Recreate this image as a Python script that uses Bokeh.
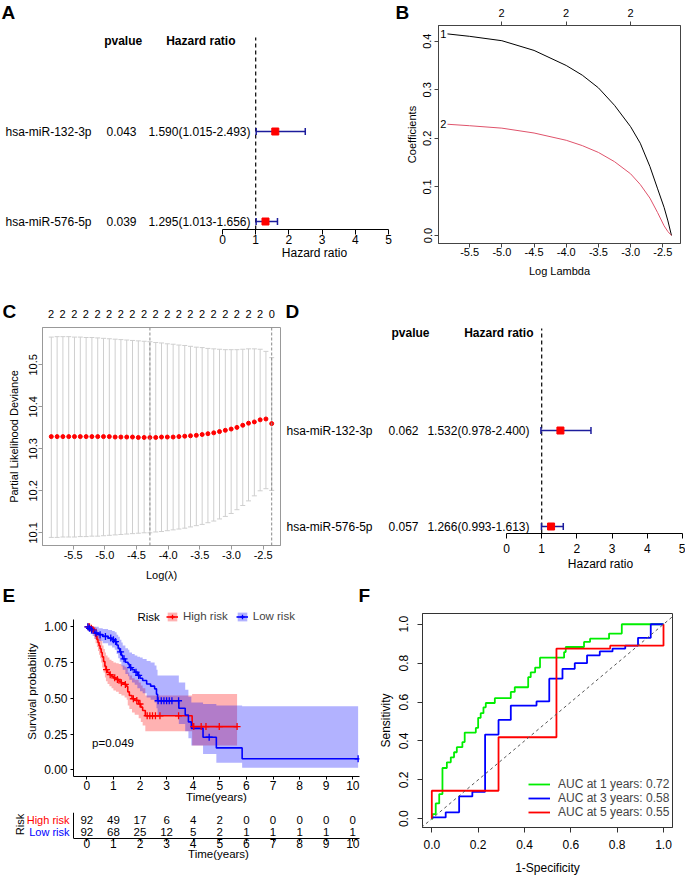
import numpy as np
from bokeh.plotting import figure
from bokeh.layouts import row, column
from bokeh.models import (Range1d, LinearAxis, FixedTicker, Span, Legend,
                          LegendItem, Slope, PrintfTickFormatter, ColumnDataSource)
from bokeh.core.properties import value
from bokeh.embed import file_html
from bokeh.resources import INLINE

FONT = "Liberation Sans"

# ---------------- data: forest plots (A: univariate, D: multivariate) ----------------
genes = ["hsa-miR-132-3p", "hsa-miR-576-5p"]
gene_rows = [2, 1]
uni_pvalue = ["0.043", "0.039"]
uni_hr = [1.590, 1.295]
uni_low = [1.015, 1.013]
uni_high = [2.493, 1.656]
multi_pvalue = ["0.062", "0.057"]
multi_hr = [1.532, 1.266]
multi_low = [0.978, 0.993]
multi_high = [2.400, 1.613]
hr_ticks = [0, 1, 2, 3, 4, 5]
hr_reference = 1

# ---------------- data: LASSO coefficient paths (B) ----------------
path_loglambda = [-5.845, -5.5, -5.0, -4.5, -4.0, -3.75, -3.5, -3.25, -3.0, -2.85, -2.7, -2.58, -2.48, -2.42, -2.365]
path_coef_1 = [0.415, 0.410, 0.401, 0.381, 0.350, 0.330, 0.304, 0.268, 0.224, 0.190, 0.142, 0.096, 0.058, 0.030, 0.0]
path_coef_2 = [0.229, 0.226, 0.221, 0.211, 0.196, 0.185, 0.171, 0.152, 0.127, 0.105, 0.077, 0.047, 0.020, 0.008, 0.0]
path_var_labels = ["1", "2"]
path_xticks = [-5.5, -5.0, -4.5, -4.0, -3.5, -3.0, -2.5]
path_yticks = [0.0, 0.1, 0.2, 0.3, 0.4]
path_top_ticks = [-5.0, -4.0, -3.0]
path_top_labels = ["2", "2", "2"]

# ---------------- data: cross-validation (C) ----------------
cv_loglambda = [-5.845, -5.753, -5.662, -5.570, -5.479, -5.387, -5.295, -5.204, -5.112, -5.021,
                -4.929, -4.837, -4.746, -4.654, -4.563, -4.471, -4.379, -4.288, -4.196, -4.105,
                -4.013, -3.921, -3.830, -3.738, -3.647, -3.555, -3.463, -3.372, -3.280, -3.189,
                -3.097, -3.005, -2.914, -2.822, -2.731, -2.639, -2.547, -2.456, -2.365]
cv_mean = [10.329, 10.329, 10.329, 10.329, 10.329, 10.329, 10.329, 10.329, 10.329, 10.329,
           10.329, 10.328, 10.328, 10.328, 10.328, 10.327, 10.327, 10.327, 10.327, 10.328,
           10.328, 10.328, 10.329, 10.330, 10.331, 10.332, 10.334, 10.336, 10.338, 10.341,
           10.344, 10.347, 10.351, 10.356, 10.361, 10.364, 10.369, 10.371, 10.360]
cv_upper = [10.566, 10.567, 10.567, 10.567, 10.566, 10.566, 10.565, 10.565, 10.564, 10.563,
            10.562, 10.561, 10.560, 10.559, 10.558, 10.557, 10.556, 10.555, 10.553, 10.552,
            10.550, 10.549, 10.547, 10.546, 10.544, 10.542, 10.541, 10.539, 10.538, 10.537,
            10.536, 10.536, 10.536, 10.537, 10.538, 10.538, 10.537, 10.532, 10.517]
cv_lower = [10.089, 10.089, 10.090, 10.090, 10.090, 10.091, 10.091, 10.092, 10.092, 10.093,
            10.094, 10.095, 10.096, 10.097, 10.098, 10.099, 10.100, 10.100, 10.102, 10.103,
            10.105, 10.107, 10.109, 10.111, 10.114, 10.117, 10.120, 10.124, 10.128, 10.133,
            10.139, 10.146, 10.155, 10.165, 10.176, 10.188, 10.200, 10.205, 10.201]
cv_nonzero = ["2", "2", "2", "2", "2", "2", "2", "2", "2", "2",
              "2", "2", "2", "2", "2", "2", "2", "2", "2", "0"]
cv_min_index = 17
cv_1se_index = 38
cv_yticks = [10.1, 10.2, 10.3, 10.4, 10.5]

# ---------------- data: Kaplan-Meier (E) ----------------
hr_time = [0, 0.12, 0.2, 0.28, 0.33, 0.38, 0.42, 0.46, 0.5, 0.54, 0.58, 0.63, 0.68, 0.72, 0.78, 0.85,
           0.93, 1.0, 1.1, 1.2, 1.3, 1.42, 1.5, 1.54, 1.6, 1.7, 1.8, 1.95, 2.03, 2.1, 2.2, 3.96]
hr_surv = [1.0, 0.989, 0.978, 0.956, 0.934, 0.912, 0.89, 0.868, 0.846, 0.82, 0.79, 0.757, 0.725, 0.70,
           0.68, 0.665, 0.655, 0.643, 0.632, 0.62, 0.608, 0.597, 0.583, 0.545, 0.52, 0.497, 0.485,
           0.46, 0.438, 0.415, 0.378, 0.302]
hr_upper = [1.0, 1.0, 1.0, 1.0, 0.99, 0.975, 0.96, 0.945, 0.925, 0.90, 0.87, 0.845, 0.82, 0.80, 0.785,
            0.77, 0.76, 0.75, 0.745, 0.74, 0.73, 0.72, 0.71, 0.68, 0.66, 0.64, 0.63, 0.61, 0.59, 0.57,
            0.52, 0.53]
hr_lower = [1.0, 0.968, 0.95, 0.915, 0.885, 0.858, 0.83, 0.805, 0.78, 0.75, 0.715, 0.68, 0.645, 0.62,
            0.60, 0.585, 0.57, 0.555, 0.545, 0.53, 0.52, 0.505, 0.49, 0.45, 0.425, 0.40, 0.385, 0.36,
            0.335, 0.31, 0.27, 0.17]
hr_end = 5.65
hr_cens = [0.05, 0.1, 0.17, 0.24, 0.74, 0.88, 1.05, 1.15, 1.3, 1.45, 1.75, 1.88, 2.0, 2.27, 2.37,
           2.47, 2.58, 2.75, 3.45, 4.02, 4.3, 4.48, 4.98, 5.65]

lr_time = [0, 0.08, 0.15, 0.22, 0.3, 0.45, 0.6, 0.8, 0.95, 1.05, 1.12, 1.18, 1.24, 1.3, 1.35, 1.45,
           1.55, 1.6, 1.7, 1.8, 1.9, 2.0, 2.1, 2.25, 2.4, 2.55, 2.62, 2.66, 3.46, 3.7, 3.82, 3.93,
           4.37, 4.87, 5.84]
lr_surv = [1.0, 0.989, 0.978, 0.967, 0.956, 0.945, 0.933, 0.921, 0.909, 0.897, 0.873, 0.849, 0.825,
           0.80, 0.776, 0.752, 0.74, 0.715, 0.70, 0.683, 0.66, 0.64, 0.625, 0.60, 0.585, 0.566, 0.528,
           0.483, 0.43, 0.383, 0.335, 0.29, 0.228, 0.153, 0.077]
lr_upper = [1.0, 1.0, 1.0, 1.0, 1.0, 0.99, 0.985, 0.978, 0.97, 0.962, 0.945, 0.93, 0.91, 0.89, 0.87,
            0.85, 0.84, 0.82, 0.81, 0.80, 0.79, 0.785, 0.775, 0.76, 0.75, 0.73, 0.70, 0.66, 0.61,
            0.56, 0.51, 0.47, 0.46, 0.45, 0.445]
lr_lower = [1.0, 0.968, 0.95, 0.935, 0.915, 0.9, 0.885, 0.87, 0.855, 0.84, 0.81, 0.78, 0.755, 0.725,
            0.70, 0.67, 0.655, 0.63, 0.61, 0.595, 0.57, 0.55, 0.535, 0.505, 0.49, 0.47, 0.43, 0.38,
            0.32, 0.27, 0.22, 0.17, 0.11, 0.05, 0.014]
lr_end = 10.2
lr_cens = [0.04, 0.1, 0.18, 0.35, 0.5, 0.7, 0.9, 1.0, 1.08, 1.27, 1.4, 1.65, 1.85, 1.95, 2.68, 2.8,
           2.9, 3.0, 3.1, 3.2, 3.45, 4.6, 10.2]
km_pvalue = "p=0.049"
km_pvalue_pos = (0.2, 0.19)
km_legend_title = "Risk"
surv_yticks = [0.0, 0.25, 0.5, 0.75, 1.0]
surv_axis_bounds = (-0.05, 1.05)
risk_times = [0, 1, 2, 3, 4, 5, 6, 7, 8, 9, 10]
hr_risk = [92, 49, 17, 6, 4, 2, 0, 0, 0, 0, 0]
lr_risk = [92, 68, 25, 12, 5, 2, 1, 1, 1, 1, 1]
risk_groups = ["High risk", "Low risk"]
risk_rows = [2, 1]

# ---------------- data: time-dependent ROC (F) ----------------
roc1_fpr = [0, 0.003, 0.003, 0.017, 0.017, 0.032, 0.032, 0.046, 0.046, 0.065, 0.065, 0.082, 0.082,
            0.096, 0.096, 0.108, 0.108, 0.132, 0.132, 0.142, 0.142, 0.19, 0.19, 0.2, 0.2, 0.211,
            0.211, 0.223, 0.223, 0.233, 0.233, 0.272, 0.272, 0.341, 0.341, 0.358, 0.358, 0.416,
            0.416, 0.427, 0.427, 0.446, 0.446, 0.467, 0.467, 0.571, 0.571, 0.578, 0.578, 0.657,
            0.657, 0.683, 0.683, 0.765, 0.765, 0.82, 0.82, 1.0]
roc1_tpr = [0, 0, 0.024, 0.024, 0.079, 0.079, 0.127, 0.127, 0.261, 0.261, 0.29, 0.29, 0.316,
            0.316, 0.342, 0.342, 0.368, 0.368, 0.394, 0.394, 0.443, 0.443, 0.467, 0.467, 0.519,
            0.519, 0.543, 0.543, 0.573, 0.573, 0.595, 0.595, 0.62, 0.62, 0.652, 0.652, 0.676,
            0.676, 0.728, 0.728, 0.753, 0.753, 0.777, 0.777, 0.828, 0.828, 0.857, 0.857, 0.883,
            0.883, 0.909, 0.909, 0.926, 0.926, 0.952, 0.952, 1.0, 1.0]
roc3_fpr = [0, 0.003, 0.06, 0.06, 0.118, 0.118, 0.175, 0.175, 0.23, 0.23, 0.288, 0.288, 0.341,
            0.341, 0.452, 0.452, 0.507, 0.507, 0.564, 0.564, 0.617, 0.617, 0.67, 0.67, 0.725,
            0.725, 0.78, 0.78, 0.835, 0.835, 0.89, 0.89, 0.945, 0.945, 1.0]
roc3_tpr = [0, 0.007, 0.007, 0.033, 0.033, 0.115, 0.115, 0.139, 0.139, 0.433, 0.433, 0.508, 0.508,
            0.582, 0.582, 0.603, 0.603, 0.72, 0.72, 0.771, 0.771, 0.80, 0.80, 0.84, 0.84, 0.86,
            0.86, 0.875, 0.875, 0.89, 0.89, 0.93, 0.93, 1.0, 1.0]
roc5_fpr = [0, 0, 0.288, 0.288, 0.538, 0.538, 0.77, 0.77, 1.0, 1.0]
roc5_tpr = [0, 0.144, 0.144, 0.419, 0.419, 0.875, 0.875, 0.89, 0.89, 1.0]
roc_labels = ["AUC at 1 years: 0.72", "AUC at 3 years: 0.58", "AUC at 5 years: 0.55"]
roc_ticks = [0.0, 0.2, 0.4, 0.6, 0.8, 1.0]

panel_letters = ["A", "B", "C", "D", "E", "F"]

# ---------------- layout helpers (geometry in page pixels) ----------------


class Geo:
    """Panel box / frame in page pixels plus a linear pixel <-> data mapping."""
    def __init__(self, box, frame, xmap, ymap):
        self.box, self.frame, self.xmap, self.ymap = box, frame, xmap, ymap

    def fx(self, xp):
        a, da, b, db = self.xmap
        return da + (xp - a) * (db - da) / (b - a)

    def fy(self, yp):
        a, da, b, db = self.ymap
        return da + (yp - a) * (db - da) / (b - a)

    def px(self, xd):
        a, da, b, db = self.xmap
        return a + (xd - da) * (b - a) / (db - da)


def make_fig(g, outline=None):
    px0, py0, px1, py1 = g.box
    fx0, fy0, fx1, fy1 = g.frame
    p = figure(width=round(px1 - px0), height=round(py1 - py0),
               x_range=Range1d(g.fx(fx0), g.fx(fx1)), y_range=Range1d(g.fy(fy1), g.fy(fy0)),
               min_border_left=round(fx0 - px0), min_border_right=round(px1 - fx1),
               min_border_top=round(fy0 - py0), min_border_bottom=round(py1 - fy1),
               x_axis_location=None, y_axis_location=None, toolbar_location=None,
               output_backend="svg", background_fill_color="white", border_fill_color="white")
    p.outline_line_color = outline
    p.grid.visible = False
    try:
        p.frame_align = False
    except Exception:
        pass
    return p


def make_strip(x0, y0, x1, y1):
    # a text-only band whose data coordinates are page pixels
    box = (x0, y0, x1, y1)
    return make_fig(Geo(box, box, (0, 0, 1, 1), (0, 0, 1, 1)))


def style_axis(ax, size="11px", line_color="black", tick_out=4, standoff=2,
               title_size="11px", title_standoff=5):
    ax.major_label_text_font = FONT
    ax.major_label_text_font_size = size
    ax.major_label_text_color = "black"
    ax.axis_label_text_font = FONT
    ax.axis_label_text_font_size = title_size
    ax.axis_label_text_font_style = "normal"
    ax.axis_label_text_color = "black"
    ax.axis_line_color = line_color
    ax.major_tick_line_color = line_color
    ax.major_tick_out = tick_out
    ax.major_tick_in = 0
    ax.minor_tick_line_color = None
    ax.major_label_standoff = standoff
    ax.axis_label_standoff = title_standoff


def title_axis(p, xd, text, size="12px", standoff=-2):
    """A second 'below' axis carrying one label: an axis title at a chosen x."""
    ax = LinearAxis(ticker=FixedTicker(ticks=[xd]), major_label_overrides={xd: text})
    style_axis(ax, size=size, tick_out=0, standoff=standoff)
    ax.axis_line_color = None
    ax.major_tick_line_color = None
    p.add_layout(ax, "below")


def strip_text(p, xs, ys, texts, size="11px", bold=False, align="left", baseline="middle",
               color="black"):
    p.text(x=xs, y=ys, text=texts, text_font=value(FONT), text_font_size=size,
           text_font_style="bold" if bold else "normal", text_align=align,
           text_baseline=baseline, text_color=color)


FOREST_BLUE = "#1C1C9C"


def build_forest(g, pvals, hrs, lows, highs, spec):
    p = make_fig(g)
    ax = LinearAxis(ticker=FixedTicker(ticks=hr_ticks), bounds=(hr_ticks[0], hr_ticks[-1]))
    style_axis(ax, size="12px", tick_out=5, standoff=spec["tick_standoff"])
    p.add_layout(ax, "below")
    title_axis(p, g.fx(spec["title_x"]), "Hazard ratio", size="12px",
               standoff=spec["title_standoff"])
    # dashed reference line at HR = 1, from the axis up to the header row
    p.segment(x0=[hr_reference], y0=[g.fy(g.frame[3])], x1=[hr_reference], y1=[g.fy(spec["ref_top"])],
              line_color="black", line_dash="4 3", line_width=1.2)
    hr_text = [f"{h:.3f}({l:.3f}-{u:.3f})" for h, l, u in zip(hrs, lows, highs)]
    src = ColumnDataSource(dict(y=gene_rows, gene=genes, pv=pvals, hrt=hr_text,
                                lo=lows, hi=highs, est=hrs))
    p.segment(x0="lo", y0="y", x1="hi", y1="y", source=src, line_color=FOREST_BLUE, line_width=1.5)
    p.scatter(x=lows + highs, y=gene_rows + gene_rows, marker="dash", angle=np.pi / 2, size=7,
              line_color=FOREST_BLUE, line_width=1.5)
    p.scatter(x="est", y="y", source=src, marker="square", size=7, fill_color="red",
              line_color="red")
    tkw = dict(source=src, text_baseline="middle", text_font=value(FONT), text_font_size="12px",
               text_color="black")
    p.text(x=g.fx(spec["gene_x"]), y="y", text="gene", text_align="left", **tkw)
    p.text(x=g.fx(spec["p_x"]), y="y", text="pv", text_align="right", **tkw)
    p.text(x=g.fx(spec["hr_x"]), y="y", text="hrt", text_align="right", **tkw)
    hy = g.fy(spec["head_y"])
    p.text(x=[g.fx(spec["ph_x"]), g.fx(spec["hh_x"])], y=[hy, hy], text=["pvalue", "Hazard ratio"],
           text_align="right", text_baseline="middle", text_font=value(FONT),
           text_font_size="12px", text_font_style="bold", text_color="black")
    return p


# ================= Row 1 =================
S1 = make_strip(0, 0, 685, 21)
gA = Geo((0, 21, 392, 285), (0, 31, 389, 229), (222, 0, 388, 5), (131, 2, 221, 1))
gB = Geo((392, 21, 685, 285), (437.5, 25, 680, 243), (501, -5.0, 630, -3.0), (235, 0.0, 40.7, 0.4))
strip_text(S1, [1, 395], [1, 1], panel_letters[0:2], size="19px", bold=True, baseline="top")
strip_text(S1, [gB.px(t) for t in path_top_ticks], [12.5] * len(path_top_ticks), path_top_labels,
           align="center")

pA = build_forest(gA, uni_pvalue, uni_hr, uni_low, uni_high,
                  dict(gene_x=5, p_x=136, hr_x=250, ph_x=141.7, hh_x=235, head_y=40, title_x=314,
                       tick_standoff=0, title_standoff=-1, ref_top=37))

pB = make_fig(gB, outline="#444444")
ax = LinearAxis(ticker=FixedTicker(ticks=path_xticks), axis_label="Log Lambda",
                formatter=PrintfTickFormatter(format="%.1f"))
style_axis(ax, line_color="#444444", tick_out=4, standoff=0, title_standoff=6)
pB.add_layout(ax, "below")
ax = LinearAxis(ticker=FixedTicker(ticks=path_yticks), axis_label="Coefficients",
                formatter=PrintfTickFormatter(format="%.1f"), major_label_orientation="vertical")
style_axis(ax, line_color="#444444", tick_out=4, standoff=3, title_standoff=3)
pB.add_layout(ax, "left")
ax = LinearAxis(ticker=FixedTicker(ticks=path_top_ticks),
                major_label_overrides={t: "" for t in path_top_ticks})
style_axis(ax, size="0px", line_color="#444444", tick_out=4, standoff=0)
pB.add_layout(ax, "above")
pB.line(path_loglambda, path_coef_1, line_color="black", line_width=1)
pB.line(path_loglambda, path_coef_2, line_color="#DF536B", line_width=1)
pB.text(x=[path_loglambda[0], path_loglambda[0]], y=[path_coef_1[0], path_coef_2[0]],
        text=path_var_labels, text_align="right", text_baseline="middle", x_offset=-1,
        text_font=value(FONT), text_font_size="11px", text_color="black")

# ================= Row 2 =================
S2 = make_strip(0, 285, 685, 321)
gC = Geo((0, 321, 283, 584), (41.7, 327, 280, 545), (41.7, -5.984, 280, -2.226),
         (364.3, 10.5, 532.3, 10.1))
gD = Geo((283, 321, 685, 584), (283, 322, 684, 533), (506, 0, 682, 5), (430, 2, 526, 1))
strip_text(S2, [2, 285], [300, 300], panel_letters[2:4], size="19px", bold=True, baseline="top")
cv_top_ticks = cv_loglambda[::2]
strip_text(S2, [gC.px(t) for t in cv_top_ticks], [313] * len(cv_top_ticks), cv_nonzero,
           align="center")

pC = make_fig(gC, outline="#999999")
ax = LinearAxis(ticker=FixedTicker(ticks=path_xticks), axis_label="Log(λ)",
                formatter=PrintfTickFormatter(format="%.1f"))
style_axis(ax, line_color="#999999", tick_out=4, standoff=1, title_standoff=7)
pC.add_layout(ax, "below")
ax = LinearAxis(ticker=FixedTicker(ticks=cv_yticks), axis_label="Partial Likelihood Deviance",
                formatter=PrintfTickFormatter(format="%.1f"), major_label_orientation="vertical")
style_axis(ax, line_color="#999999", tick_out=4, standoff=1, title_standoff=7)
pC.add_layout(ax, "left")
pC.segment(x0=cv_loglambda, y0=cv_lower, x1=cv_loglambda, y1=cv_upper,
           line_color="#CFCFCF", line_width=1)
pC.scatter(x=cv_loglambda + cv_loglambda, y=cv_upper + cv_lower, marker="dash", size=5,
           line_color="#CFCFCF", line_width=1)
for idx in (cv_min_index, cv_1se_index):
    pC.add_layout(Span(location=cv_loglambda[idx], dimension="height", line_color="#888888",
                       line_dash="3 2", line_width=1))
pC.scatter(x=cv_loglambda, y=cv_mean, marker="circle", size=4, fill_color="red", line_color="red")

pD = build_forest(gD, multi_pvalue, multi_hr, multi_low, multi_high,
                  dict(gene_x=286, p_x=418, hr_x=529, ph_x=429, hh_x=533, head_y=332, title_x=600,
                       tick_standoff=5, title_standoff=1, ref_top=328))

# ================= Row 3 =================


def surv_at(times, surv, pts):
    idx = np.searchsorted(np.array(times), np.array(pts), side="right") - 1
    return [surv[i] for i in idx]


groups = [
    (risk_groups[0], "red", hr_time, hr_surv, hr_upper, hr_lower, hr_end, hr_cens),
    (risk_groups[1], "blue", lr_time, lr_surv, lr_upper, lr_lower, lr_end, lr_cens),
]

S3 = make_strip(0, 584, 372, 605)
strip_text(S3, [2, 358], [584, 584], panel_letters[4:6], size="19px", bold=True, baseline="top")

# the frame reaches up to the legend row; the y axis line is bounded to the data panel
gE = Geo((0, 605, 372, 812), (73, 606, 359, 776), (86.3, 0, 352.3, 10), (769.3, 0.0, 626.3, 1.0))
pE = make_fig(gE)
ax = LinearAxis(ticker=FixedTicker(ticks=risk_times), axis_label="Time(years)")
style_axis(ax, size="12px", tick_out=3, standoff=1, title_size="11.5px", title_standoff=-2)
pE.add_layout(ax, "below")
ax = LinearAxis(ticker=FixedTicker(ticks=surv_yticks), axis_label="Survival probability",
                formatter=PrintfTickFormatter(format="%.2f"), bounds=surv_axis_bounds)
style_axis(ax, size="12px", tick_out=3, standoff=3, title_size="11.5px", title_standoff=3)
pE.add_layout(ax, "left")
bands, lines, marks = [], [], []
for name, col, t, s, up, lo, end, cens in groups:
    bands.append(pE.varea_step(x=t + [end], y1=lo + [lo[-1]], y2=up + [up[-1]],
                               step_mode="after", fill_color=col, fill_alpha=0.3))
for name, col, t, s, up, lo, end, cens in groups:
    lines.append(pE.step(x=t + [end], y=s + [s[-1]], mode="after", line_color=col,
                         line_width=1.6))
for name, col, t, s, up, lo, end, cens in groups:
    marks.append(pE.scatter(x=cens, y=surv_at(t, s, cens), marker="cross", size=7,
                            line_color=col, line_width=1.3))
legE = Legend(items=[LegendItem(label=groups[i][0], renderers=[bands[i], lines[i], marks[i]])
                     for i in range(2)],
              orientation="horizontal", location=(round(166 - 73), round(776 - 622)),
              border_line_color=None, background_fill_alpha=0, padding=0, margin=0, spacing=8,
              glyph_width=12, glyph_height=11, label_height=11, label_standoff=5,
              label_text_font=FONT, label_text_font_size="11.5px")
pE.add_layout(legE)
pE.text(x=[gE.fx(137)], y=[gE.fy(616)], text=[km_legend_title], text_align="left",
        text_baseline="middle", text_font=value(FONT), text_font_size="11.5px", text_color="black")
pE.text(x=[km_pvalue_pos[0]], y=[km_pvalue_pos[1]], text=[km_pvalue], text_align="left",
        text_baseline="middle", text_font=value(FONT), text_font_size="11.5px", text_color="black")

# risk table
gT = Geo((0, 812, 372, 880), (0, 812, 359, 838), (86.3, 0, 352.3, 10), (819, 2, 831, 1))
pT = make_fig(gT)
ax = LinearAxis(ticker=FixedTicker(ticks=risk_times), bounds=(gT.fx(73), gT.fx(359)))
style_axis(ax, size="12px", tick_out=3, standoff=-3)
pT.add_layout(ax, "below")
title_axis(pT, gT.fx(218), "Time(years)", size="11.5px", standoff=-3)
pT.add_layout(Span(location=gT.fx(73), dimension="height", line_color="black", line_width=1))
tsrc = ColumnDataSource(dict(x=risk_times + risk_times,
                             y=[risk_rows[0]] * len(risk_times) + [risk_rows[1]] * len(risk_times),
                             n=[str(v) for v in hr_risk + lr_risk]))
pT.text(x="x", y="y", text="n", source=tsrc, text_align="center", text_baseline="middle",
        text_font=value(FONT), text_font_size="11.5px", text_color="black")
pT.text(x=[gT.fx(69), gT.fx(69)], y=risk_rows, text=risk_groups, text_color=["red", "blue"],
        text_align="right", text_baseline="middle", text_font=value(FONT), text_font_size="11px")
pT.text(x=[gT.fx(19)], y=[gT.fy(824)], text=["Risk"], angle=np.pi / 2, text_align="center",
        text_baseline="middle", text_font=value(FONT), text_font_size="11px", text_color="black")

# ROC
gF = Geo((372, 584, 685, 880), (421.7, 613.3, 671.7, 826.7), (431, 0.0, 662.7, 1.0),
         (818, 0.0, 624, 1.0))
pF = make_fig(gF, outline="#333333")
ax = LinearAxis(ticker=FixedTicker(ticks=roc_ticks), axis_label="1-Specificity",
                formatter=PrintfTickFormatter(format="%.1f"))
style_axis(ax, size="12px", line_color="#333333", tick_out=5, standoff=7,
           title_size="12px", title_standoff=9)
pF.add_layout(ax, "below")
ax = LinearAxis(ticker=FixedTicker(ticks=roc_ticks), axis_label="Sensitivity",
                formatter=PrintfTickFormatter(format="%.1f"), major_label_orientation="vertical")
style_axis(ax, size="12px", line_color="#333333", tick_out=5, standoff=9,
           title_size="12px", title_standoff=4)
pF.add_layout(ax, "left")
pF.add_layout(Slope(gradient=1, y_intercept=0, line_color="#555555", line_dash="3 3",
                    line_width=1))
r1 = pF.line(roc1_fpr, roc1_tpr, line_color="#00EE00", line_width=1.8)
r3 = pF.line(roc3_fpr, roc3_tpr, line_color="#0000FF", line_width=1.8)
r5 = pF.line(roc5_fpr, roc5_tpr, line_color="#FF0000", line_width=1.8)
legF = Legend(items=[LegendItem(label=roc_labels[0], renderers=[r1]),
                     LegendItem(label=roc_labels[1], renderers=[r3]),
                     LegendItem(label=roc_labels[2], renderers=[r5])],
              location=(round(528 - 421.7), round(826.7 - 819)),
              border_line_color=None, background_fill_alpha=0, padding=0, margin=0, spacing=0,
              glyph_width=22, glyph_height=12, label_height=12, label_standoff=8,
              label_text_font=FONT, label_text_font_size="12px")
pF.add_layout(legF)

layout = column(column(S1, row(pA, pB)),
                column(S2, row(pC, pD)),
                row(column(S3, pE, pT), pF))
open("out.html", "w").write(file_html(layout, INLINE))
